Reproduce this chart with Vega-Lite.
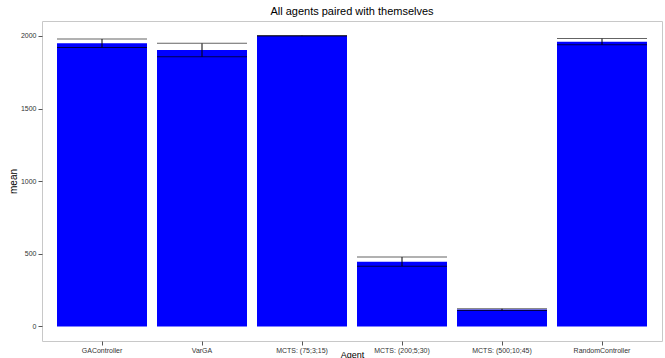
{
  "$schema": "https://vega.github.io/schema/vega-lite/v6.json",
  "autosize": "none",
  "width": 620,
  "height": 320,
  "padding": {"left": 42, "top": 21, "right": 3, "bottom": 17},
  "background": "white",
  "title": {
    "text": "All agents paired with themselves",
    "font": "Liberation Sans",
    "fontSize": 11,
    "fontWeight": "normal",
    "color": "black",
    "anchor": "middle",
    "offset": 4
  },
  "data": {
    "values": [
      {"Agent": "GAController", "mean": 1950, "ymin": 1921, "ymax": 1979},
      {"Agent": "VarGA", "mean": 1903, "ymin": 1857, "ymax": 1949},
      {"Agent": "MCTS: (75;3;15)", "mean": 2001, "ymin": 1999, "ymax": 2003},
      {"Agent": "MCTS: (200;5;30)", "mean": 446, "ymin": 415, "ymax": 478},
      {"Agent": "MCTS: (500;10;45)", "mean": 116, "ymin": 110, "ymax": 122},
      {"Agent": "RandomController", "mean": 1961, "ymin": 1940, "ymax": 1982}
    ]
  },
  "encoding": {
    "x": {
      "field": "Agent",
      "type": "nominal",
      "sort": null,
      "scale": {"paddingInner": 0.1, "paddingOuter": 0.15},
      "axis": {
        "title": "Agent",
        "labelAngle": 0,
        "labelFont": "Liberation Sans",
        "labelFontSize": 7,
        "labelColor": "#333333",
        "labelPadding": 1,
        "tickSize": 4,
        "tickColor": "#555555",
        "domain": false,
        "titleFont": "Liberation Sans",
        "titleFontSize": 9,
        "titleFontWeight": "normal",
        "titleColor": "black",
        "titlePadding": -3
      }
    }
  },
  "layer": [
    {
      "mark": {"type": "bar", "color": "#0000ff"},
      "encoding": {
        "y": {
          "field": "mean",
          "type": "quantitative",
          "scale": {"domain": [-100, 2103], "nice": false, "zero": false},
          "axis": {
            "title": "mean",
            "values": [0, 250, 500, 750, 1000, 1250, 1500, 1750, 2000],
            "labelExpr": "datum.value % 500 === 0 ? datum.label : ''",
            "format": "d",
            "labelFont": "Liberation Sans",
            "labelFontSize": 7,
            "labelColor": "#333333",
            "labelPadding": 2,
            "tickSize": 4,
            "tickColor": "#555555",
            "tickOpacity": {"condition": {"test": "datum.value % 500 === 0", "value": 1}, "value": 0},
            "grid": true,
            "gridColor": "#f3f3f3",
            "gridOpacity": {"condition": {"test": "datum.value % 500 === 0", "value": 0}, "value": 1},
            "domain": false,
            "titleFont": "Liberation Sans",
            "titleFontSize": 10,
            "titleFontWeight": 400,
            "titleColor": "black",
            "titlePadding": 2
          }
        }
      }
    },
    {
      "mark": {"type": "rule", "color": "black", "strokeWidth": 1},
      "encoding": {
        "y": {"field": "ymin", "type": "quantitative"},
        "y2": {"field": "ymax"}
      }
    },
    {
      "mark": {"type": "tick", "color": "#222222", "size": 90, "thickness": 1},
      "encoding": {"y": {"field": "ymax", "type": "quantitative"}}
    },
    {
      "mark": {"type": "tick", "color": "black", "size": 90, "thickness": 1},
      "encoding": {"y": {"field": "ymin", "type": "quantitative"}}
    }
  ],
  "config": {
    "view": {"stroke": "#c8c8c8", "strokeWidth": 1},
    "axis": {"gridWidth": 1}
  }
}
